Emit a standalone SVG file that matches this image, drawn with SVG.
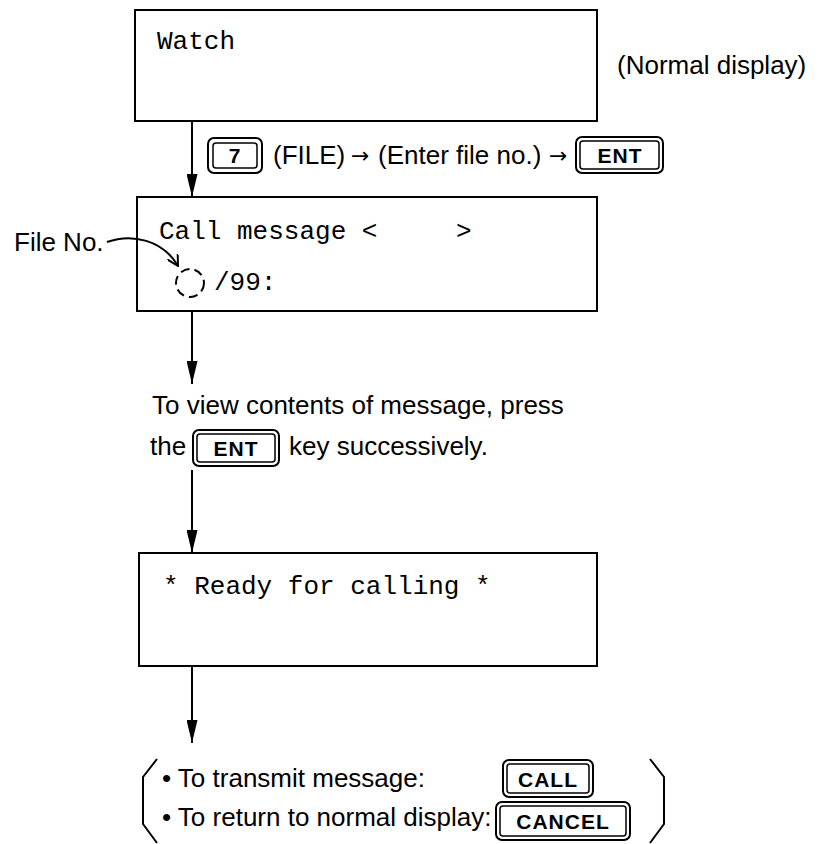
<svg xmlns="http://www.w3.org/2000/svg" width="819" height="844" viewBox="0 0 819 844">
<style>
.box{fill:#fff;stroke:#000;stroke-width:2}
.mono{font-family:"Liberation Mono","Courier New",monospace;font-size:26px;fill:#000}
.sans{font-family:"Liberation Sans",Arial,sans-serif;font-size:26px;fill:#000}
.arr{font-family:"DejaVu Sans",sans-serif;font-size:22px;fill:#000}
.keyt{font-family:"Liberation Sans",Arial,sans-serif;font-size:21px;font-weight:bold;fill:#000;text-anchor:middle;letter-spacing:1px}
.kout{fill:#fff;stroke:#000;stroke-width:2}
.kin{fill:none;stroke:#000;stroke-width:1.5}
.conn{stroke:#000;stroke-width:2;fill:none}
.thin{stroke:#000;stroke-width:2;fill:none}
</style>
<defs>
<marker id="ah" viewBox="0 0 23 11" refX="23" refY="5.5" markerWidth="23" markerHeight="11" orient="auto" markerUnits="userSpaceOnUse">
<path d="M0,0 L23,5.5 L0,11 z" fill="#000"/>
</marker>
<marker id="sah" viewBox="0 0 12 12" refX="11" refY="6" markerWidth="12" markerHeight="12" orient="auto" markerUnits="userSpaceOnUse">
<path d="M0,0 L11,6 L0,12" fill="none" stroke="#000" stroke-width="2"/>
</marker>
</defs>

<g id="watch">
<rect class="box" x="135" y="10" width="462" height="111"/>
<text class="mono" x="157" y="49">Watch</text>
</g>
<text id="normal-label" class="sans" x="617" y="74">(Normal display)</text>

<g id="step1">
<rect class="kout" x="208" y="138" width="54" height="35" rx="6"/>
<rect class="kin" x="213" y="143" width="44" height="25" rx="3"/>
<text class="keyt" x="235" y="163" font-size="18">7</text>
<text class="sans" x="273" y="164">(FILE)</text>
<text class="arr" x="351" y="163">→</text>
<text class="sans" x="378" y="164">(Enter file no.)</text>
<text class="arr" x="549" y="163">→</text>
<rect class="kout" x="576" y="137" width="87" height="36" rx="6"/>
<rect class="kin" x="580" y="141" width="79" height="28" rx="3"/>
<text class="keyt" x="620" y="163">ENT</text>
</g>

<g id="call-message">
<rect class="box" x="137" y="197" width="460" height="114"/>
<text class="mono" x="159" y="239">Call message &lt;</text>
<text class="mono" x="456" y="239">&gt;</text>
<circle cx="190" cy="283" r="14" fill="none" stroke="#000" stroke-width="2" stroke-dasharray="9,5"/>
<text class="mono" x="214" y="290">/99:</text>
</g>
<text id="file-no" class="sans" x="14" y="251" font-size="25">File No.</text>

<g id="view-instruction">
<text class="sans" x="152" y="414">To view contents of message, press</text>
<text class="sans" x="150" y="455">the</text>
<rect class="kout" x="193" y="430" width="86" height="36" rx="6"/>
<rect class="kin" x="197" y="434" width="78" height="28" rx="3"/>
<text class="keyt" x="236" y="456">ENT</text>
<text class="sans" x="289" y="455">key successively.</text>
</g>

<g id="ready">
<rect class="box" x="139" y="553" width="458" height="113"/>
<text class="mono" x="163" y="594">* Ready for calling *</text>
</g>

<g id="options">
<path class="thin" d="M157,759 L143,777 L143,824 L157,843"/>
<path class="thin" d="M650,759 L664,777 L664,824 L650,843"/>
<text class="sans" x="162" y="787">• To transmit message:</text>
<rect class="kout" x="503" y="760" width="90" height="37" rx="6"/>
<rect class="kin" x="507" y="764" width="82" height="29" rx="3"/>
<text class="keyt" x="548" y="787">CALL</text>
<text class="sans" x="162" y="826">• To return to normal display:</text>
<rect class="kout" x="496" y="802" width="134" height="38" rx="6"/>
<rect class="kin" x="500" y="806" width="126" height="30" rx="3"/>
<text class="keyt" x="563" y="829">CANCEL</text>
</g>

<g id="connectors">
<line class="conn" x1="192" y1="121" x2="192" y2="197" marker-end="url(#ah)"/>
<line class="conn" x1="192" y1="311" x2="192" y2="384" marker-end="url(#ah)"/>
<line class="conn" x1="192" y1="470" x2="192" y2="553" marker-end="url(#ah)"/>
<line class="conn" x1="192" y1="666" x2="192" y2="743" marker-end="url(#ah)"/>
<path class="thin" d="M107,242 C132,233 163,240 178,266" marker-end="url(#sah)"/>
</g>
</svg>
